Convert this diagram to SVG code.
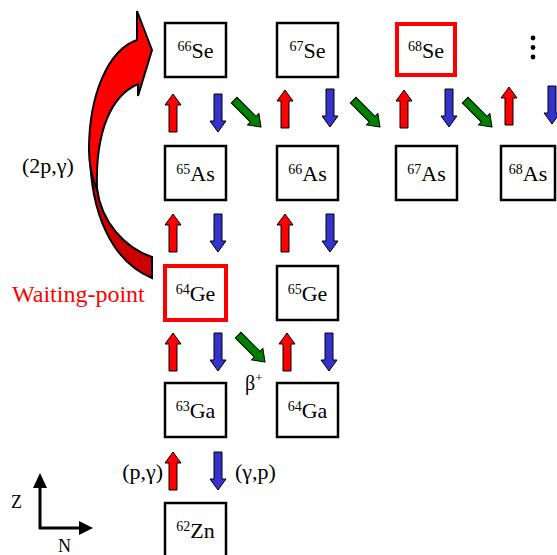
<svg xmlns="http://www.w3.org/2000/svg" width="557" height="555" viewBox="0 0 557 555">
<style>
.box{fill:#fff;stroke:#000;stroke-width:2.5}
.wp{fill:#fff;stroke:#ff0000;stroke-width:4}
text{font-family:"Liberation Serif","Times New Roman",serif;font-size:22px;fill:#000}
.red{fill:#ff0000;stroke:#000;stroke-width:1}
.blue{fill:#3333cc;stroke:#000;stroke-width:1}
.green{fill:#008000;stroke:#000;stroke-width:1}
.ax{stroke:#000;stroke-width:3;fill:none}
</style>
<defs>
<polygon id="arr" points="0,0 8,11 4,11 4,38 -4,38 -4,11 -8,11"/>
</defs>
<rect width="557" height="555" fill="#fff"/>

<g id="curved-arrow">
<path d="M90,150 C90,215 113,262 152,278 L152,257 C125,248 101,222 97,188 Z" fill="#cc0000" stroke="#000" stroke-width="2"/>
<path d="M152,50 L137,11 L137,40 C108,50 89,95 89,150 C89,165 92,178 97,190 C95,130 112,95 138,84 L138,96 Z" fill="#ff0000" stroke="#000" stroke-width="2"/>
</g>

<g id="Se66"><rect class="box" x="165" y="23" width="61" height="54"/><text x="195.5" y="58" text-anchor="middle"><tspan font-size="14" dy="-7">66</tspan><tspan dy="7">Se</tspan></text></g>
<g id="Se67"><rect class="box" x="277" y="23" width="61" height="54"/><text x="307.5" y="58" text-anchor="middle"><tspan font-size="14" dy="-7">67</tspan><tspan dy="7">Se</tspan></text></g>
<g id="Se68"><rect class="wp" x="397" y="24" width="58" height="51"/><text x="426" y="58" text-anchor="middle"><tspan font-size="14" dy="-7">68</tspan><tspan dy="7">Se</tspan></text></g>
<g id="dots"><circle cx="533" cy="38" r="2.4"/><circle cx="533" cy="47.5" r="2.4"/><circle cx="533" cy="57" r="2.4"/></g>

<g id="As65"><rect class="box" x="165" y="146" width="61" height="54"/><text x="195.5" y="181" text-anchor="middle"><tspan font-size="14" dy="-7">65</tspan><tspan dy="7">As</tspan></text></g>
<g id="As66"><rect class="box" x="277" y="146" width="61" height="54"/><text x="307.5" y="181" text-anchor="middle"><tspan font-size="14" dy="-7">66</tspan><tspan dy="7">As</tspan></text></g>
<g id="As67"><rect class="box" x="396" y="146" width="61" height="54"/><text x="426.5" y="181" text-anchor="middle"><tspan font-size="14" dy="-7">67</tspan><tspan dy="7">As</tspan></text></g>
<g id="As68"><rect class="box" x="501" y="146" width="54" height="54"/><text x="528" y="181" text-anchor="middle"><tspan font-size="14" dy="-7">68</tspan><tspan dy="7">As</tspan></text></g>

<g id="Ge64"><rect class="wp" x="165" y="266" width="61" height="54"/><text x="195.5" y="301" text-anchor="middle"><tspan font-size="14" dy="-7">64</tspan><tspan dy="7">Ge</tspan></text></g>
<g id="Ge65"><rect class="box" x="277" y="266" width="61" height="54"/><text x="307.5" y="301" text-anchor="middle"><tspan font-size="14" dy="-7">65</tspan><tspan dy="7">Ge</tspan></text></g>

<g id="Ga63"><rect class="box" x="165" y="383" width="61" height="54"/><text x="195.5" y="418" text-anchor="middle"><tspan font-size="14" dy="-7">63</tspan><tspan dy="7">Ga</tspan></text></g>
<g id="Ga64"><rect class="box" x="277" y="383" width="61" height="54"/><text x="307.5" y="418" text-anchor="middle"><tspan font-size="14" dy="-7">64</tspan><tspan dy="7">Ga</tspan></text></g>

<g id="Zn62"><rect class="box" x="165" y="503" width="61" height="56"/><text x="195.5" y="538" text-anchor="middle"><tspan font-size="14" dy="-7">62</tspan><tspan dy="7">Zn</tspan></text></g>

<g id="connectors">
<use href="#arr" class="red" transform="translate(173,94)"/>
<use href="#arr" class="blue" transform="translate(218,132) rotate(180)"/>
<use href="#arr" class="green" transform="translate(261,127) rotate(135)"/>
<use href="#arr" class="red" transform="translate(285,90)"/>
<use href="#arr" class="blue" transform="translate(330,127) rotate(180)"/>
<use href="#arr" class="green" transform="translate(380,127) rotate(135)"/>
<use href="#arr" class="red" transform="translate(404,90)"/>
<use href="#arr" class="blue" transform="translate(449,127) rotate(180)"/>
<use href="#arr" class="green" transform="translate(492,127) rotate(135)"/>
<use href="#arr" class="red" transform="translate(509,87)"/>
<use href="#arr" class="blue" transform="translate(552,124) rotate(180)"/>

<use href="#arr" class="red" transform="translate(173,214)"/>
<use href="#arr" class="blue" transform="translate(218,252) rotate(180)"/>
<use href="#arr" class="red" transform="translate(285,214)"/>
<use href="#arr" class="blue" transform="translate(330,252) rotate(180)"/>

<use href="#arr" class="red" transform="translate(173,333)"/>
<use href="#arr" class="blue" transform="translate(218,371) rotate(180)"/>
<use href="#arr" class="green" transform="translate(265,362) rotate(135)"/>
<use href="#arr" class="red" transform="translate(287,333)"/>
<use href="#arr" class="blue" transform="translate(329,371) rotate(180)"/>

<use href="#arr" class="red" transform="translate(173,452)"/>
<use href="#arr" class="blue" transform="translate(218,490) rotate(180)"/>
</g>

<g id="labels">
<text x="22" y="173">(2p,γ)</text>
<text x="12" y="302" style="font-size:24px;fill:#ff0000">Waiting-point</text>
<text x="245" y="390" style="font-size:20px">β<tspan font-size="13" dy="-8">+</tspan></text>
<text x="163" y="479" text-anchor="end">(p,γ)</text>
<text x="235" y="479">(γ,p)</text>
</g>

<g id="axes">
<path class="ax" d="M40,529 V486 M39,528 H80"/>
<polygon points="40,473 33,488 47,488"/>
<polygon points="93,528 79,521 79,535"/>
<text x="11" y="508" style="font-size:18px">Z</text>
<text x="58" y="552" style="font-size:18px">N</text>
</g>
</svg>
